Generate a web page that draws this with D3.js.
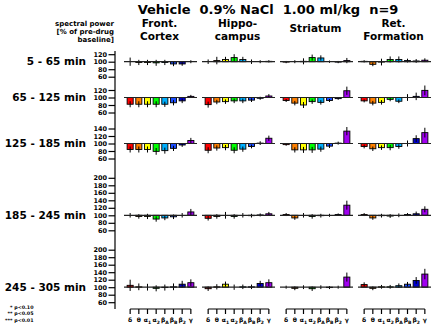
<!DOCTYPE html>
<html>
<head>
<meta charset="utf-8">
<script src="https://cdn.jsdelivr.net/npm/d3@7"></script>
<style>
  body { margin: 0; background: #fff; }
  svg { display: block; font-family: "DejaVu Sans", Verdana, sans-serif; font-weight: bold; }
</style>
</head>
<body>
<div id="chart"></div>
<script>
// frequency bands (name + subscript)
const bandNames = ["δ", "θ", "α", "α", "β", "β", "β", "γ"];
const bandSubs  = ["", "", "1", "2", "A", "B", "2", ""];
const bandKeys  = ["d", "t", "a1", "a2", "bA", "bB", "b2", "g"];
const bandColors = ["#ff0000", "#ff8000", "#ffff00", "#00ff00", "#00b0ff", "#1a4dff", "#0000d0", "#a000f0"];

const regionLines = [["Front.", "Cortex"], ["Hippo-", "campus"], ["Striatum"], ["Ret.", "Formation"]];
const periods = ["5 - 65 min", "65 - 125 min", "125 - 185 min", "185 - 245 min", "245 - 305 min"];
const rowTicks = [
  [60, 80, 100, 120],
  [60, 80, 100, 120],
  [60, 80, 100, 120, 140],
  [60, 80, 100, 120, 140, 160, 180, 200],
  [60, 80, 100, 120, 140, 160, 180, 200]
];

// % of baseline, one row per time period, one value per band
const frontCortex = [
  [100, 98, 98, 97, 98, 94, 94, 100],
  [82, 82, 82, 82, 82, 86, 91, 103],
  [84, 84, 84, 79, 81, 87, 96, 108],
  [100, 97, 97, 90, 93, 96, 100, 109],
  [105, 101, 100, 97, 99, 101, 108, 112]
];
const frontCortexErr = [
  [11, 7, 7, 8, 7, 6, 5, 4],
  [8, 8, 8, 8, 7, 7, 6, 4],
  [8, 8, 8, 9, 8, 7, 5, 7],
  [6, 6, 7, 7, 6, 6, 6, 8],
  [15, 9, 9, 8, 8, 9, 9, 9]
];
const hippocampus = [
  [100, 103, 106, 111, 106, 100, 100, 101],
  [81, 88, 89, 91, 91, 93, 98, 104],
  [82, 88, 89, 82, 85, 92, 101, 114],
  [92, 97, 100, 97, 100, 99, 101, 104],
  [96, 101, 108, 100, 101, 101, 110, 112]
];
const hippocampusErr = [
  [6, 10, 7, 9, 7, 6, 4, 3],
  [8, 6, 6, 6, 6, 5, 4, 5],
  [8, 7, 7, 8, 7, 5, 5, 7],
  [6, 6, 9, 6, 6, 5, 4, 5],
  [6, 7, 7, 7, 6, 6, 7, 9]
];
const striatum = [
  [99, 100, 101, 111, 110, 100, 99, 103],
  [92, 85, 80, 89, 87, 92, 97, 118],
  [97, 83, 83, 83, 85, 93, 101, 133],
  [102, 93, 100, 97, 99, 100, 102, 127],
  [100, 97, 100, 96, 100, 99, 100, 127]
];
const striatumErr = [
  [3, 4, 8, 8, 7, 3, 3, 7],
  [4, 6, 8, 6, 6, 4, 3, 11],
  [3, 7, 8, 8, 7, 5, 4, 11],
  [4, 5, 6, 6, 5, 4, 3, 12],
  [4, 5, 5, 6, 5, 4, 4, 12]
];
const retFormation = [
  [101, 93, 99, 106, 106, 103, 102, 104],
  [91, 85, 87, 95, 90, 100, 103, 119],
  [92, 86, 89, 89, 92, 100, 113, 129],
  [102, 93, 99, 98, 100, 102, 104, 116],
  [107, 97, 101, 101, 104, 108, 118, 135]
];
const retFormationErr = [
  [3, 5, 9, 8, 8, 5, 5, 5],
  [4, 6, 6, 5, 5, 9, 10, 13],
  [5, 6, 6, 7, 6, 8, 9, 13],
  [4, 5, 5, 5, 5, 4, 6, 8],
  [6, 5, 5, 5, 6, 6, 9, 14]
];

const regionValues = [frontCortex, hippocampus, striatum, retFormation];
const regionErrors = [frontCortexErr, hippocampusErr, striatumErr, retFormationErr];

// layout
const width = 433, height = 324;
const axisX = 115;
const panelStarts = [124, 202, 280, 358], panelW = 73;
const rowBase = [61.7, 97.5, 143.5, 215.3, 287.2];
const pxPer100 = 37.5;
const bottomY = 309;

const svg = d3.select("#chart")
    .append("svg")
    .attr("width", width)
    .attr("height", height);

// titel
svg.append("text")
    .attr("x", 268).attr("y", 13.5)
    .attr("text-anchor", "middle")
    .style("font-size", "13px")
    .attr("xml:space", "preserve")
    .text("Vehicle  0.9% NaCl  1.00 ml/kg  n=9");

// y axis label
["spectral power", "[% of pre-drug", "baseline]"].forEach((t, i) => {
  svg.append("text")
      .attr("x", 114).attr("y", 25.5 + i * 8.2)
      .attr("text-anchor", "end")
      .style("font-size", "7px")
      .text(t);
});

// region headers
regionLines.forEach((lines, p) => {
  const cx = panelStarts[p] + panelW / 2 - 1;
  const y0 = lines.length === 1 ? 31.5 : 27.3;
  lines.forEach((t, i) => {
    svg.append("text")
        .attr("x", cx).attr("y", y0 + i * 12.7)
        .attr("text-anchor", "middle")
        .style("font-size", "10.5px")
        .text(t);
  });
});

// y axis line
svg.append("line")
    .attr("x1", axisX).attr("x2", axisX)
    .attr("y1", 51).attr("y2", bottomY)
    .attr("stroke", "#000").attr("stroke-width", 1.2);

periods.forEach((label, r) => {
  const y = d3.scaleLinear()
      .domain([100, 200])
      .range([rowBase[r], rowBase[r] - pxPer100]);

  // row label
  svg.append("text")
      .attr("x", 86).attr("y", rowBase[r] + 3.5)
      .attr("text-anchor", "end")
      .style("font-size", "10.5px")
      .text(label);

  // y ticks
  const ax = svg.append("g")
      .attr("transform", `translate(${axisX},0)`)
      .call(d3.axisLeft(y).tickValues(rowTicks[r]).tickSize(6.5).tickPadding(1.5));
  ax.select(".domain").remove();
  ax.selectAll(".tick line").attr("stroke-width", 1.2);
  ax.selectAll(".tick text")
      .style("font-family", "DejaVu Sans, sans-serif")
      .style("font-weight", "bold")
      .style("font-size", "6.5px");

  regionValues.forEach((vals, p) => {
    const x = d3.scaleBand()
        .domain(bandKeys)
        .range([panelStarts[p], panelStarts[p] + panelW])
        .paddingInner(0.3)
        .paddingOuter(0.36);
    const data = vals[r].map((v, i) => ({ key: bandKeys[i], v: v, e: regionErrors[p][r][i], c: bandColors[i] }));
    const g = svg.append("g");

    // bars from 100
    g.selectAll("rect")
        .data(data)
        .enter()
        .append("rect")
        .attr("x", d => x(d.key))
        .attr("width", x.bandwidth())
        .attr("y", d => Math.min(y(d.v), y(100)))
        .attr("height", d => Math.abs(y(d.v) - y(100)))
        .attr("fill", d => d.c)
        .attr("stroke", "#000")
        .attr("stroke-width", 0.9);

    // error bars
    g.selectAll(".err")
        .data(data)
        .enter()
        .append("line")
        .attr("class", "err")
        .attr("x1", d => x(d.key) + x.bandwidth() / 2)
        .attr("x2", d => x(d.key) + x.bandwidth() / 2)
        .attr("y1", d => y(d.v - d.e))
        .attr("y2", d => y(d.v + d.e))
        .attr("stroke", "#000")
        .attr("stroke-width", 1);

    // baseline 100 %
    g.append("line")
        .attr("x1", panelStarts[p]).attr("x2", panelStarts[p] + panelW)
        .attr("y1", y(100)).attr("y2", y(100))
        .attr("stroke", "#222").attr("stroke-width", 1.2);

    // bottom band axis
    if (r === periods.length - 1) {
      const xb = svg.append("g")
          .attr("transform", `translate(0,${bottomY})`)
          .call(d3.axisBottom(x).tickSize(5).tickPadding(2).tickFormat(""));
      xb.select(".domain")
          .attr("d", `M${x(bandKeys[0]) + x.bandwidth() / 2},0H${x(bandKeys[7]) + x.bandwidth() / 2}`)
          .attr("stroke-width", 1.2);
      xb.selectAll(".tick line").attr("stroke-width", 1.2);
      xb.selectAll(".tick").append("text")
          .attr("y", 13)
          .attr("text-anchor", "middle")
          .attr("fill", "#000")
          .style("font-family", "DejaVu Sans, sans-serif")
          .style("font-weight", "bold")
          .style("font-size", "6px")
          .each(function (d, i) {
            const t = d3.select(this);
            t.append("tspan").text(bandNames[i]);
            if (bandSubs[i]) t.append("tspan").attr("dy", 1.5).style("font-size", "4.5px").text(bandSubs[i]);
          });
    }
  });
});

// significance legend
["* p<0.10", "** p<0.05", "*** p<0.01"].forEach((t, i) => {
  svg.append("text")
      .attr("x", 33.5).attr("y", 308.5 + i * 6.5)
      .attr("text-anchor", "end")
      .style("font-size", "4.8px")
      .text(t);
});
</script>
</body>
</html>
